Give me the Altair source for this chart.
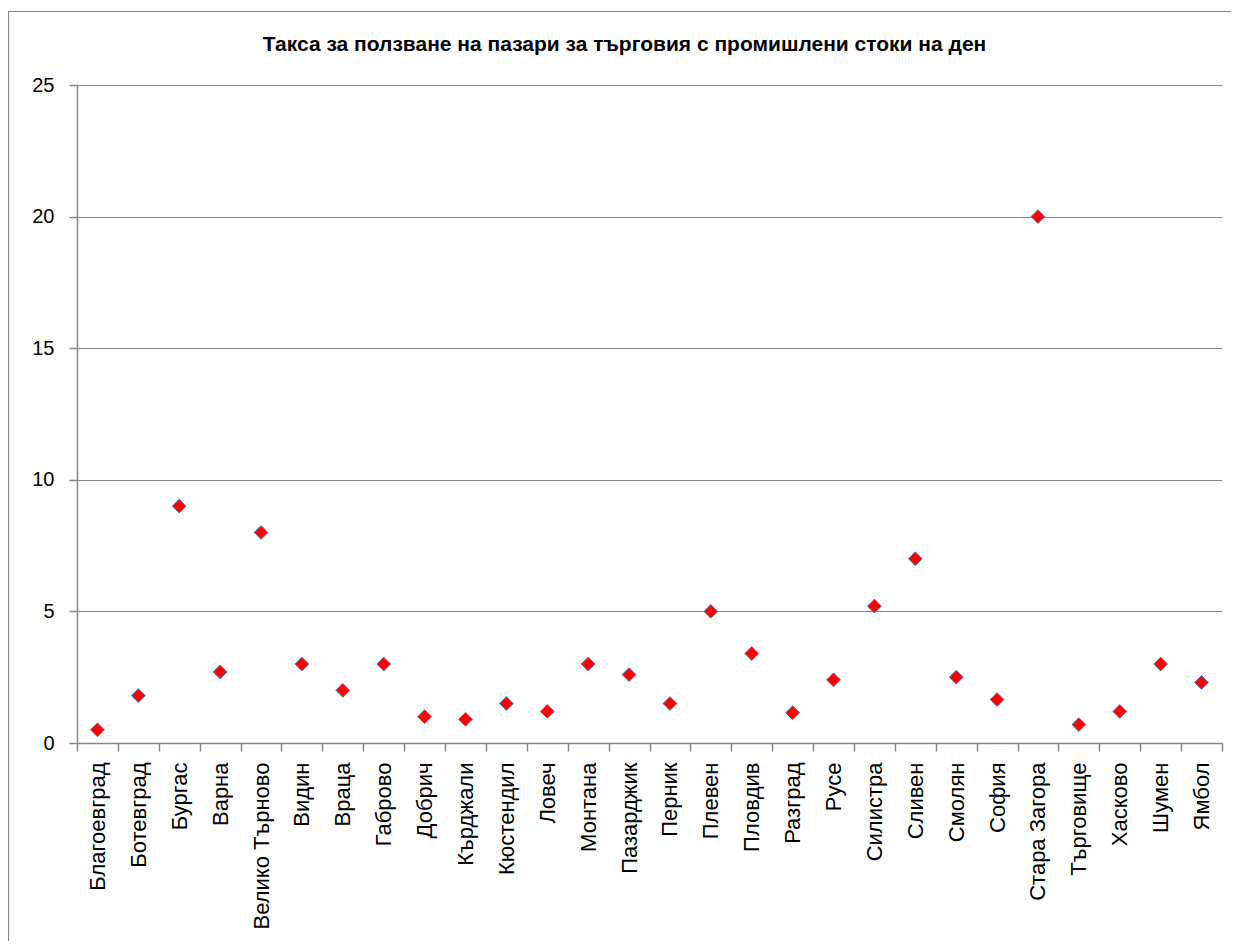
import altair as alt
import pandas as pd

cities = ["Благоевград", "Ботевград", "Бургас", "Варна", "Велико Търново", "Видин",
          "Враца", "Габрово", "Добрич", "Кърджали", "Кюстендил", "Ловеч", "Монтана",
          "Пазарджик", "Перник", "Плевен", "Пловдив", "Разград", "Русе", "Силистра",
          "Сливен", "Смолян", "София", "Стара Загора", "Търговище", "Хасково",
          "Шумен", "Ямбол"]
fees = [0.5, 1.8, 9.0, 2.7, 8.0, 3.0, 2.0, 3.0, 1.0, 0.9, 1.5, 1.2, 3.0, 2.6, 1.5,
        5.0, 3.4, 1.15, 2.4, 5.2, 7.0, 2.5, 1.65, 20.0, 0.7, 1.2, 3.0, 2.3]
y_ticks = [0, 5, 10, 15, 20, 25]
title_text = "Такса за ползване на пазари за търговия с промишлени стоки на ден"

df = pd.DataFrame({"city": cities, "fee": fees})

FONT = "Liberation Sans"
GREY = "#868686"

base = alt.Chart(df)

points = base.mark_point(
    shape="diamond", filled=True, fill="#FF0000", stroke="#5B74B0",
    strokeWidth=1, size=190, opacity=1
).encode(
    x=alt.X("city:N", sort=cities, title=None,
            scale=alt.Scale(paddingInner=0, paddingOuter=0),
            axis=alt.Axis(labelAngle=270, labelFont=FONT, labelFontSize=22,
                          labelColor="#000000", labelPadding=11, tickBand="extent",
                          tickSize=8, tickColor=GREY, domainColor=GREY,
                          domainWidth=1.5, tickWidth=1.5, grid=False,
                          labelOverlap=False)),
    y=alt.Y("fee:Q", title=None,
            scale=alt.Scale(domain=[0, 25], nice=False),
            axis=alt.Axis(values=y_ticks, labelFont=FONT, labelFontSize=20,
                          labelColor="#000000", labelPadding=15, tickSize=8,
                          tickColor=GREY, domainColor=GREY, domainWidth=1.5,
                          tickWidth=1.5, gridColor=GREY, gridWidth=1.2)),
)

border = alt.Chart(pd.DataFrame({"a": [0]})).mark_rect(
    fill=None, stroke=GREY, strokeWidth=1.2
).encode(
    x=alt.value(-68.5), x2=alt.value(1300),
    y=alt.value(-73.5), y2=alt.value(1000)
)

chart = alt.layer(border, points).properties(
    width=1145, height=658,
    title=alt.TitleParams(title_text, font=FONT, fontSize=21, fontWeight="bold",
                          color="#000000", anchor="middle", offset=-44, dx=-25),
    padding={"left": 69, "top": 77, "right": 9, "bottom": 198},
    autosize=alt.AutoSizeParams(type="none"),
).configure_view(stroke=None)

chart.save("out.html", embed_options={"renderer": "svg", "actions": False})
